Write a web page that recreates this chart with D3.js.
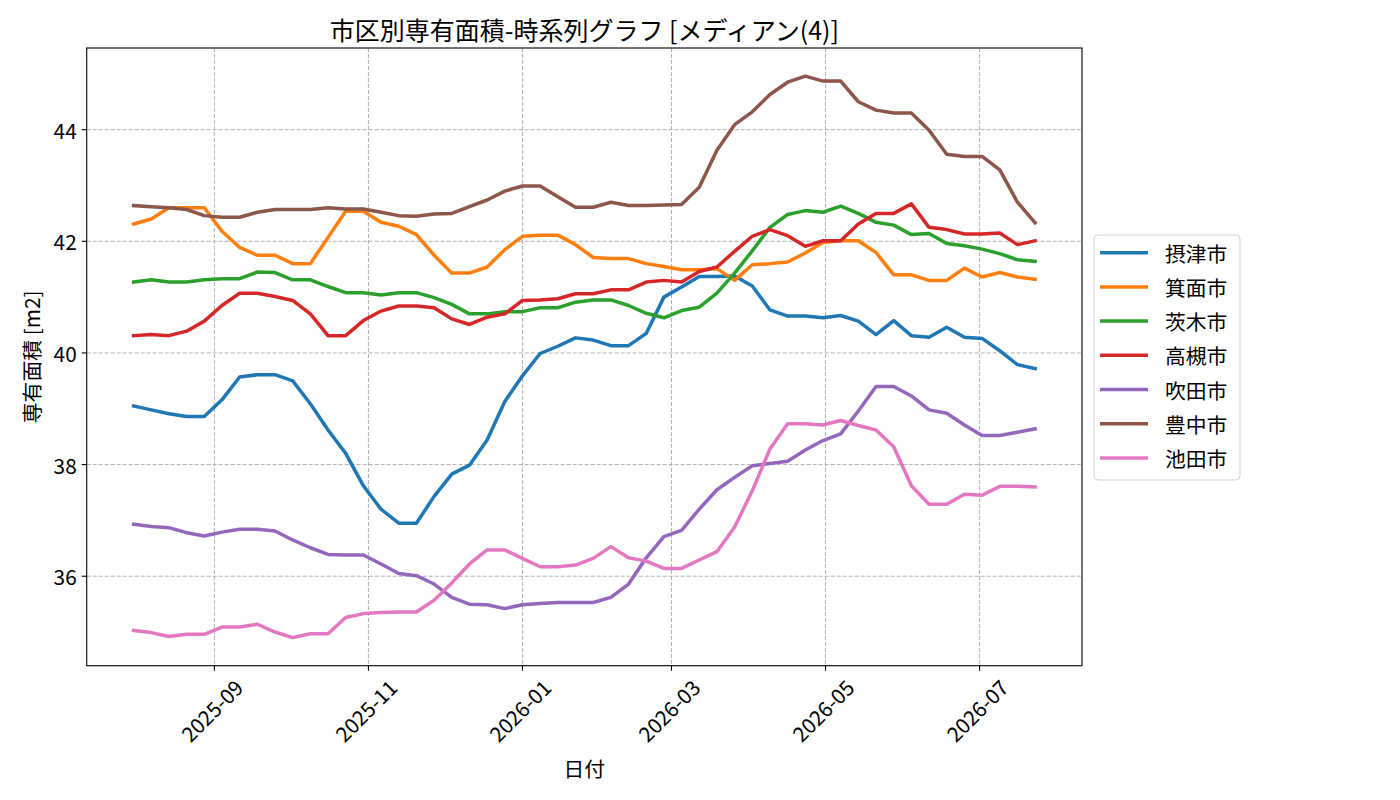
<!DOCTYPE html>
<html>
<head>
<meta charset="utf-8">
<script src="https://cdn.jsdelivr.net/npm/d3@7"></script>
<style>
  body { margin: 0; background: #fff; }
  text { font-family: "Noto Sans CJK JP", "Noto Sans", sans-serif; fill: #000; }
</style>
</head>
<body>
<div id="chart"></div>
<script>
// weekly dates
const dates = [
  "2025-07-31","2025-08-07","2025-08-14","2025-08-21","2025-08-28","2025-09-04","2025-09-11","2025-09-18",
  "2025-09-25","2025-10-02","2025-10-09","2025-10-16","2025-10-23","2025-10-30","2025-11-06","2025-11-13",
  "2025-11-20","2025-11-27","2025-12-04","2025-12-11","2025-12-18","2025-12-25","2026-01-01","2026-01-08",
  "2026-01-15","2026-01-22","2026-01-29","2026-02-05","2026-02-12","2026-02-19","2026-02-26","2026-03-05",
  "2026-03-12","2026-03-19","2026-03-26","2026-04-02","2026-04-09","2026-04-16","2026-04-23","2026-04-30",
  "2026-05-07","2026-05-14","2026-05-21","2026-05-28","2026-06-04","2026-06-11","2026-06-18","2026-06-25",
  "2026-07-02","2026-07-09","2026-07-16","2026-07-23"
];

const cities = ["摂津市", "箕面市", "茨木市", "高槻市", "吹田市", "豊中市", "池田市"];

const settsu = [39.05,38.98,38.91,38.86,38.86,39.16,39.57,39.61,39.61,39.50,39.09,38.62,38.20,37.62,37.20,36.95,
  36.95,37.43,37.83,37.99,38.44,39.13,39.59,39.99,40.12,40.27,40.23,40.13,40.13,40.35,41.00,41.18,
  41.37,41.37,41.38,41.20,40.77,40.66,40.66,40.63,40.67,40.57,40.33,40.58,40.31,40.28,40.46,40.28,
  40.26,40.04,39.79,39.72];
const minoh = [42.31,42.40,42.60,42.60,42.60,42.18,41.89,41.75,41.75,41.60,41.60,42.07,42.54,42.54,42.34,42.27,
  42.12,41.75,41.43,41.43,41.54,41.85,42.09,42.11,42.11,41.94,41.71,41.69,41.69,41.60,41.55,41.49,
  41.49,41.51,41.30,41.58,41.60,41.63,41.79,41.98,42.01,42.01,41.80,41.40,41.40,41.30,41.30,41.52,
  41.36,41.44,41.36,41.32];
const ibaraki = [41.27,41.31,41.27,41.27,41.31,41.33,41.33,41.45,41.44,41.31,41.31,41.19,41.08,41.08,41.04,41.08,
  41.08,40.99,40.87,40.70,40.70,40.74,40.74,40.81,40.81,40.91,40.95,40.95,40.85,40.71,40.63,40.76,
  40.82,41.07,41.43,41.83,42.25,42.48,42.55,42.52,42.63,42.50,42.34,42.29,42.12,42.14,41.96,41.92,
  41.86,41.78,41.67,41.64];
const takatsuki = [40.31,40.33,40.31,40.39,40.57,40.85,41.07,41.07,41.01,40.94,40.70,40.31,40.31,40.58,40.75,40.84,
  40.84,40.81,40.61,40.51,40.64,40.70,40.94,40.95,40.97,41.06,41.06,41.13,41.13,41.27,41.30,41.27,
  41.46,41.54,41.82,42.09,42.21,42.10,41.91,42.01,42.01,42.31,42.50,42.50,42.67,42.25,42.21,42.13,
  42.13,42.15,41.94,42.01];
const suita = [36.93,36.89,36.87,36.78,36.72,36.79,36.84,36.84,36.81,36.65,36.51,36.39,36.38,36.38,36.22,36.05,
  36.01,35.86,35.62,35.50,35.49,35.42,35.49,35.51,35.53,35.53,35.53,35.62,35.86,36.33,36.71,36.82,
  37.20,37.55,37.77,37.98,38.02,38.06,38.26,38.43,38.55,38.96,39.40,39.40,39.23,38.98,38.92,38.71,
  38.52,38.52,38.58,38.64];
const toyonaka = [42.64,42.62,42.60,42.57,42.46,42.43,42.43,42.52,42.57,42.57,42.57,42.60,42.58,42.58,42.52,42.46,
  42.45,42.49,42.50,42.62,42.74,42.90,42.99,42.99,42.80,42.61,42.61,42.70,42.64,42.64,42.65,42.66,
  42.97,43.63,44.09,44.32,44.63,44.85,44.96,44.87,44.87,44.50,44.35,44.30,44.30,43.99,43.56,43.52,
  43.52,43.28,42.70,42.33];
const ikeda = [35.03,34.99,34.92,34.96,34.96,35.09,35.09,35.14,35.00,34.90,34.97,34.97,35.26,35.33,35.35,35.36,
  35.36,35.57,35.88,36.22,36.47,36.47,36.32,36.17,36.17,36.20,36.32,36.53,36.33,36.27,36.14,36.14,
  36.29,36.44,36.88,37.53,38.28,38.73,38.73,38.71,38.79,38.70,38.62,38.32,37.62,37.29,37.29,37.47,
  37.45,37.61,37.61,37.60];

const seriesValues = [settsu, minoh, ibaraki, takatsuki, suita, toyonaka, ikeda];
const yTicks = [36, 38, 40, 42, 44];
const colors = ["#1f77b4", "#ff7f0e", "#2ca02c", "#d62728", "#9467bd", "#8c564b", "#e377c2"];

// layout
const W = 1400, H = 800;
const plot = { left: 86.7, top: 48, right: 1082, bottom: 665.7 };

const parse = d3.timeParse("%Y-%m-%d");
const dateObjs = dates.map(parse);

const series = cities.map((name, k) => ({
  name: name,
  color: colors[k],
  values: dateObjs.map((d, i) => ({ date: d, value: seriesValues[k][i] }))
}));

const svg = d3.select("#chart").append("svg")
  .attr("width", W)
  .attr("height", H);

// scales with padding around the data
const xExt = d3.extent(dateObjs);
const xPad = (xExt[1] - xExt[0]) * 0.052;
const x = d3.scaleTime()
  .domain([new Date(+xExt[0] - xPad), new Date(+xExt[1] + xPad)])
  .range([plot.left, plot.right]);

const allVals = seriesValues.flat();
const yMin = d3.min(allVals), yMax = d3.max(allVals);
const yPad = (yMax - yMin) * 0.05;
const y = d3.scaleLinear()
  .domain([yMin - yPad, yMax + yPad])
  .range([plot.bottom, plot.top]);

const xTicks = x.ticks(d3.timeMonth.every(2));

// grid
const grid = svg.append("g");
grid.selectAll(".gx").data(xTicks).join("line")
  .attr("x1", d => x(d)).attr("x2", d => x(d))
  .attr("y1", plot.top).attr("y2", plot.bottom)
  .attr("stroke", "#b0b0b0").attr("stroke-width", 1)
  .attr("stroke-dasharray", "4,2");
grid.selectAll(".gy").data(yTicks).join("line")
  .attr("x1", plot.left).attr("x2", plot.right)
  .attr("y1", d => y(d)).attr("y2", d => y(d))
  .attr("stroke", "#b0b0b0").attr("stroke-width", 1)
  .attr("stroke-dasharray", "4,2");

// lines
const line = d3.line()
  .x(d => x(d.date))
  .y(d => y(d.value));

svg.append("g")
  .selectAll("path")
  .data(series)
  .join("path")
    .attr("d", d => line(d.values))
    .attr("fill", "none")
    .attr("stroke", d => d.color)
    .attr("stroke-width", 3.5)
    .attr("stroke-linejoin", "round")
    .attr("stroke-linecap", "square");

// frame
svg.append("rect")
  .attr("x", plot.left).attr("y", plot.top)
  .attr("width", plot.right - plot.left)
  .attr("height", plot.bottom - plot.top)
  .attr("fill", "none").attr("stroke", "#000").attr("stroke-width", 1.1);

// y axis
const yAxis = svg.append("g");
yAxis.selectAll("line").data(yTicks).join("line")
  .attr("x1", plot.left - 5).attr("x2", plot.left)
  .attr("y1", d => y(d)).attr("y2", d => y(d))
  .attr("stroke", "#000").attr("stroke-width", 1.1);
yAxis.selectAll("text").data(yTicks).join("text")
  .attr("x", plot.left - 10)
  .attr("y", d => y(d))
  .attr("text-anchor", "end")
  .attr("dominant-baseline", "central")
  .style("font-size", "20.8px")
  .text(d => d);

// x axis
const xAxis = svg.append("g");
xAxis.selectAll("line").data(xTicks).join("line")
  .attr("x1", d => x(d)).attr("x2", d => x(d))
  .attr("y1", plot.bottom).attr("y2", plot.bottom + 5)
  .attr("stroke", "#000").attr("stroke-width", 1.1);
const fmt = d3.timeFormat("%Y-%m");
xAxis.selectAll("text").data(xTicks).join("text")
  .attr("text-anchor", "middle")
  .attr("dominant-baseline", "central")
  .style("font-size", "20.8px")
  .text(d => fmt(d))
  .each(function(d) {
    const w = this.getComputedTextLength();
    const h = 20.8;
    const cx = x(d) - 3;
    const cy = plot.bottom + 10 + (w + h) / Math.SQRT2 / 2;
    d3.select(this)
      .attr("x", cx).attr("y", cy)
      .attr("transform", `rotate(-45, ${cx}, ${cy})`);
  });

// axis labels and title
svg.append("text")
  .attr("x", (plot.left + plot.right) / 2)
  .attr("y", 768)
  .attr("text-anchor", "middle")
  .attr("dominant-baseline", "central")
  .style("font-size", "20.8px")
  .text("日付");

svg.append("text")
  .attr("transform", `translate(31, ${(plot.top + plot.bottom) / 2}) rotate(-90)`)
  .attr("text-anchor", "middle")
  .attr("dominant-baseline", "central")
  .style("font-size", "20.8px")
  .text("専有面積 [m2]");

svg.append("text")
  .attr("x", (plot.left + plot.right) / 2)
  .attr("y", 40)
  .attr("text-anchor", "middle")
  .style("font-size", "25px")
  .text("市区別専有面積-時系列グラフ [メディアン(4)]");

// legend
const legend = svg.append("g").attr("transform", "translate(1094, 235)");
legend.append("rect")
  .attr("width", 146).attr("height", 245)
  .attr("rx", 4)
  .attr("fill", "#fff").attr("fill-opacity", 0.8)
  .attr("stroke", "#d0d0d0").attr("stroke-width", 1);
const item = legend.selectAll("g.item").data(series).join("g")
  .attr("transform", (d, i) => `translate(0, ${17.7 + i * 34.2})`);
item.append("line")
  .attr("x1", 6).attr("x2", 54)
  .attr("stroke", d => d.color).attr("stroke-width", 3.5);
item.append("text")
  .attr("x", 71)
  .attr("dominant-baseline", "central")
  .style("font-size", "20.8px")
  .text(d => d.name);
</script>
</body>
</html>
